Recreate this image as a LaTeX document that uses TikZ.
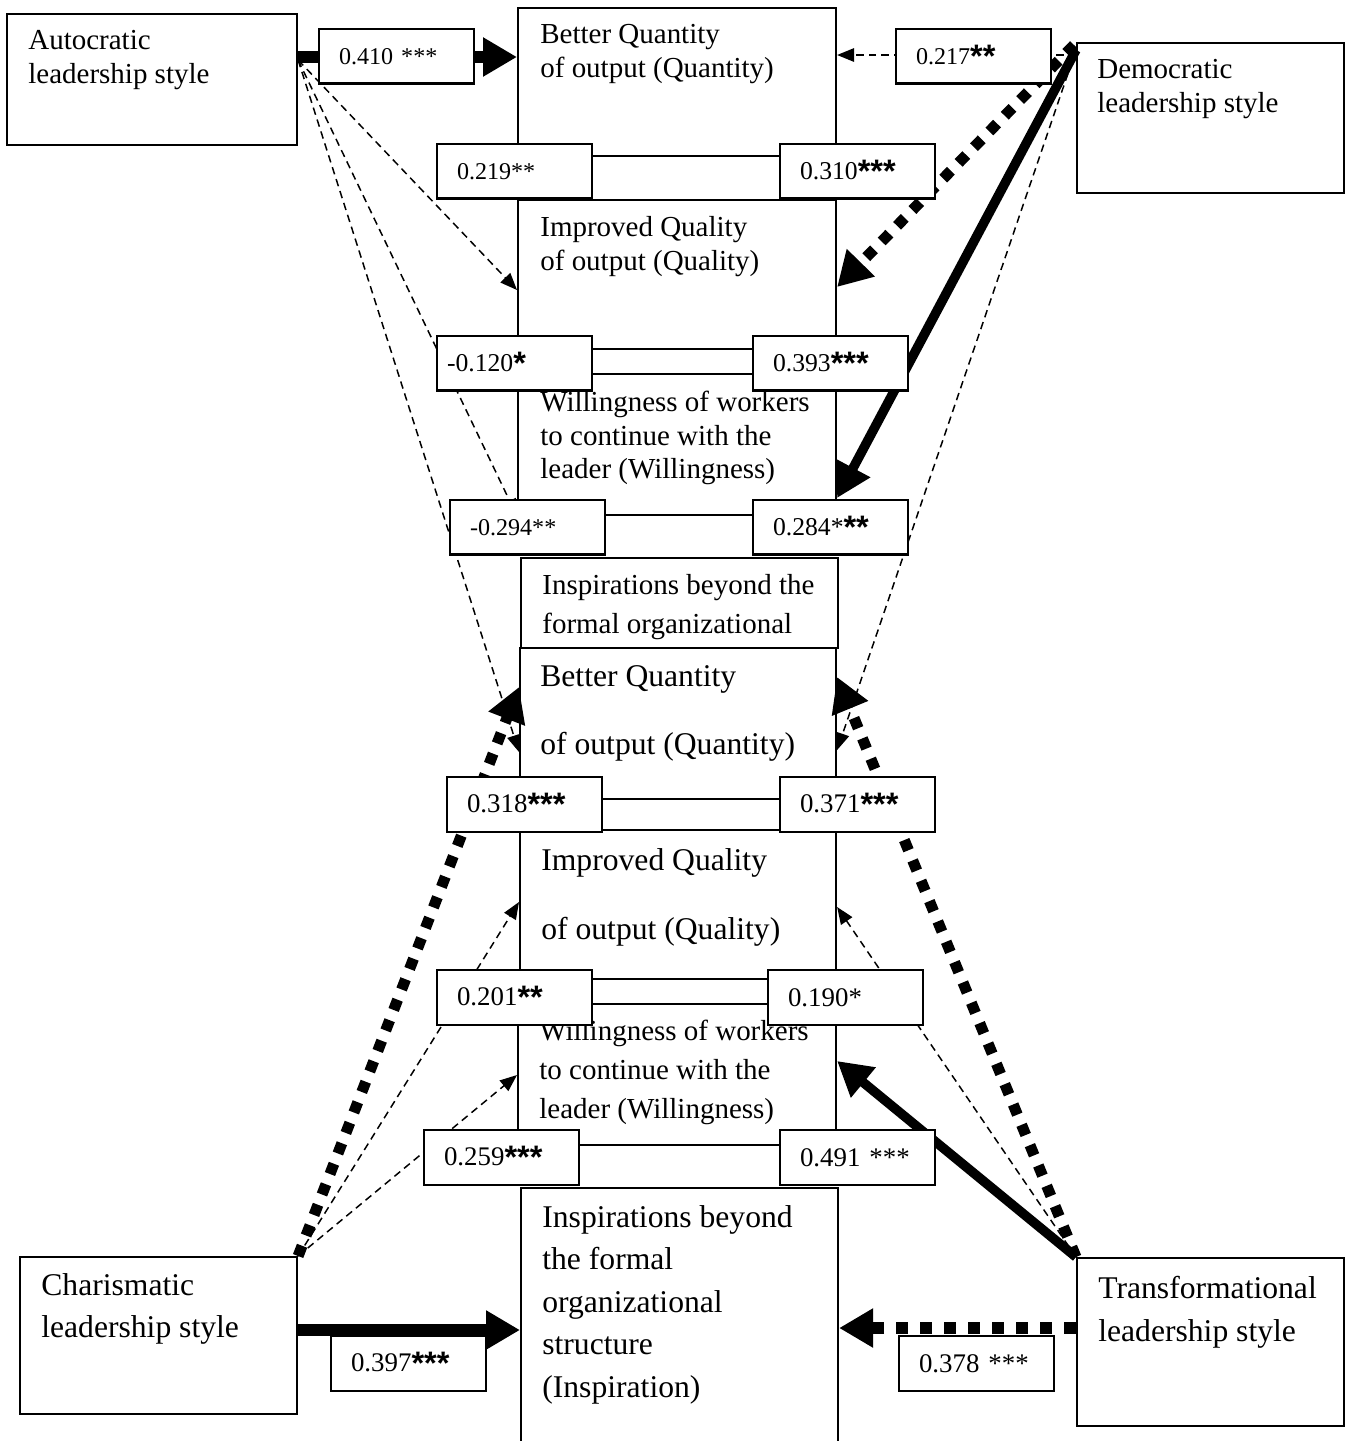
\documentclass[tikz,border=0pt]{standalone}
\usepackage{fontspec}
\setmainfont{Liberation Serif}
\newfontfamily\astfont{Liberation Sans}
\newcommand{\bast}[1]{{\astfont\bfseries\fontsize{18.5}{18.5}\selectfont\raisebox{-0.1em}{#1}}}
\usetikzlibrary{arrows.meta,calc}
\tikzset{box/.style 2 args={draw,fill=white,line width=1.2pt,anchor=north west,inner sep=0pt,
                       minimum width=#1*0.02cm,minimum height=#2*0.02cm}}
\tikzset{txt/.style 2 args={anchor=north west,inner sep=0pt,align=left,
                       font=\fontsize{#1}{#2}\selectfont}}
\tikzset{lbl/.style={draw,fill=white,line width=1.2pt,anchor=north west,
                     inner xsep=0.4cm,inner ysep=0pt,text width=2.3cm,align=left,
                     minimum height=1.09cm,font=\fontsize{#1}{#1}\selectfont},
         lbl/.default=15.3}

\begin{document}
\begin{tikzpicture}[x=0.02cm,y=-0.02cm,
    % connector styles
    solidarr/.style={line width=0.19cm,-{Triangle[length=0.68cm 0 0,width=0.74cm 0 0]}},
    dotarr/.style  ={line width=0.22cm,dash pattern=on 0.22cm off 0.22cm,
                     -{Triangle[length=0.68cm 0 0,width=0.74cm 0 0]}},
    dasharr/.style ={line width=0.85pt,dash pattern=on 0.15cm off 0.1cm,
                     -{Triangle[length=0.34cm 0 0,width=0.27cm 0 0]}}
  ]
  \useasboundingbox (0,0) rectangle (1350,1441);

  % leadership styles
  \node[box={290}{131}] (auto) at (6,13) {};
  \node[txt={16.5}{19.4}] (autotxt) at (28,30) {Autocratic\\leadership style};
  \node[box={267}{150}] (demo) at (1076,42) {};
  \node[txt={16.5}{19.4}] (demotxt) at (1097,59) {Democratic\\leadership style};
  \node[box={277}{157}] (char) at (19,1256) {};
  \node[txt={18}{24.2}] (chartxt) at (41,1273) {Charismatic\\leadership style};
  \node[box={267}{168}] (trans) at (1076,1257) {};
  \node[txt={18}{24.2}] (transtxt) at (1098,1276) {Transformational\\leadership style};

  % outcomes, upper column
  \node[box={318}{148}] (qty1) at (517,7) {};
  \node[txt={16.5}{19.4}] (qty1txt) at (540,24) {Better Quantity\\of output (Quantity)};
  \node[box={318}{149}] (qual1) at (517,199) {};
  \node[txt={16.5}{19.4}] (qual1txt) at (540,216) {Improved Quality\\of output (Quality)};
  \node[box={318}{141}] (will1) at (517,373) {};
  \node[txt={16.5}{19.1}] (will1txt) at (540,391) {Willingness of workers\\to continue with the\\leader (Willingness)};
  \node[box={317}{90}] (insp1) at (520,557) {};
  \node[txt={16.5}{22.2}] (insp1txt) at (542,574) {Inspirations beyond the\\formal organizational};

  % outcomes, lower column
  \node[box={316}{151}] (qty2) at (519,647) {};
  \node[txt={18}{39}] (qty2txt) at (540,665) {Better Quantity\\of output (Quantity)};
  \node[box={316}{149}] (qual2) at (519,829) {};
  \node[txt={18}{39.3}] (qual2txt) at (541,848) {Improved Quality\\of output (Quality)};
  \node[box={318}{141}] (will2) at (517,1003) {};
  \node[txt={16.5}{22.2}] (will2txt) at (539,1020) {Willingness of workers\\to continue with the\\leader (Willingness)};
  \node[box={317}{270}] (insp2) at (520,1187) {};
  \node[txt={18}{24.2}] (insp2txt) at (542,1205) {Inspirations beyond\\the formal\\organizational\\structure\\(Inspiration)};

  % autocratic
  \draw[solidarr,line width=0.24cm] ($(auto.north east)+(0,44)$) -- ($(qty1.north west)+(0,50)$);
  \draw[dasharr] ($(auto.north east)+(0,47)$) -- ($(qual1.north west)+(0,91)$);
  \draw[dasharr] ($(auto.north east)+(0,47)$) -- (will1.south west);
  \draw[dasharr] ($(auto.north east)+(0,47)$) -- ($(qty2.north west)+(0,105)$);

  % democratic
  \draw[dasharr] ($(demo.north west)+(0,13)$) -- ($(qty1.north east)+(0,48)$);
  \draw[dotarr] ($(demo.north west)+(-2,3)$) -- ($(qual1.north east)+(0,88)$);
  \draw[solidarr] ($(demo.north west)+(0,8)$) -- ($(will1.north east)+(0,125)$);
  \draw[dasharr] ($(demo.north west)+(0,8)$) -- ($(qty2.north east)+(0,103)$);

  % charismatic
  \draw[dotarr] (char.north east) -- ($(qty2.north west)+(0,40)$);
  \draw[dasharr] (char.north east) -- ($(qual2.north west)+(0,73)$);
  \draw[dasharr] (char.north east) -- ($(will2.north west)+(0,72)$);
  \draw[solidarr,line width=0.24cm] ($(char.north east)+(0,74)$) -- ($(insp2.north west)+(0,143)$);

  % transformational
  \draw[dotarr] (trans.north west) -- ($(qty2.north east)+(0,30)$);
  \draw[dasharr] (trans.north west) -- ($(qual2.north east)+(0,78)$);
  \draw[solidarr] (trans.north west) -- ($(will2.north east)+(0,58)$);
  \draw[dotarr,line width=0.24cm,dash pattern=on 0.24cm off 0.24cm]
    ($(trans.north west)+(0,71)$) -- ($(insp2.north east)+(0,141)$);

  % coefficients
  \node[lbl=13.7] (l410) at (318,28) {0.410 ***};
  \node[lbl=13.7] (l217) at (895,28) {0.217\bast{**}};
  \node[lbl=13.7] (l219) at (436,143) {0.219**};
  \node[lbl=14.6] (l310) at (779,143) {0.310\bast{***}};
  \node[lbl=14.6] (l120) at (436,335) {\hspace*{-0.2cm}-0.120\bast{*}};
  \node[lbl=14.6] (l393) at (752,335) {0.393\bast{***}};
  \node[lbl=13.7] (l294) at (449,499) {-0.294**};
  \node[lbl=14.6] (l284) at (752,499) {0.284*\bast{**}};
  \node[lbl] (l318) at (446,776) {0.318\bast{***}};
  \node[lbl] (l371) at (779,776) {0.371\bast{***}};
  \node[lbl] (l201) at (436,969) {0.201\bast{**}};
  \node[lbl] (l190) at (767,969) {0.190*};
  \node[lbl] (l259) at (423,1129) {0.259\bast{***}};
  \node[lbl] (l491) at (779,1129) {0.491 ***};
  \node[lbl] (l397) at (330,1335) {0.397\bast{***}};
  \node[lbl] (l378) at (898,1335) {0.378 ***};
\end{tikzpicture}
\end{document}
